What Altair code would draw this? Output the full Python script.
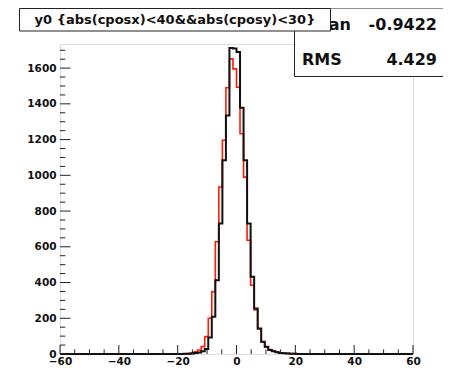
import altair as alt
import pandas as pd

# histogram binning (ROOT: 100 bins from -60 to 60)
x_min = -60.0
x_max = 60.0
bin_width = 1.2
n_bins = 100

# black histogram: first non-empty bin edge and counts
black_start = -18.0
black_counts = [1, 2, 3, 5, 9, 15, 28, 92, 209, 413, 730, 1084, 1335, 1712, 1710,
                1690, 1378, 1084, 730, 432, 255, 143, 69, 41, 23, 15, 10, 6, 4, 3, 2, 1]

# red histogram
red_start = -16.8
red_counts = [2, 5, 12, 22, 41, 97, 200, 348, 628, 935, 1196, 1490, 1652, 1596,
              1493, 1233, 990, 637, 385, 246, 140, 68, 38, 25, 16, 10, 7, 5, 4, 3, 2, 1]

y_max = 1735

x_label_values = [-60, -40, -20, 0, 20, 40, 60]
x_minor_ticks = [-55, -50, -45, -35, -30, -25, -15, -10, -5, 5, 10, 15, 25, 30, 35, 45, 50, 55]
y_label_values = [0, 200, 400, 600, 800, 1000, 1200, 1400, 1600]
y_minor_ticks = [50, 100, 150, 250, 300, 350, 450, 500, 550, 650, 700, 750, 850, 900, 950,
                 1050, 1100, 1150, 1250, 1300, 1350, 1450, 1500, 1550, 1650, 1700]

title_text = "y0 {abs(cposx)<40&&abs(cposy)<30}"
stat_names = ["Mean", "RMS"]
stat_values = ["-0.9422", "4.429"]

W, H = 353, 310


def hist_rows(start, counts, name):
    first = int(round((start - x_min) / bin_width))
    full = [0] * n_bins
    for i, c in enumerate(counts):
        full[first + i] = c
    rows = []
    for i in range(n_bins):
        rows.append({"x": x_min + i * bin_width, "count": full[i], "series": name})
    rows.append({"x": x_max, "count": full[-1], "series": name})
    return rows


xs = alt.Scale(domain=[x_min, x_max], nice=False, zero=False)
ys = alt.Scale(domain=[0, y_max], nice=False, zero=True)

font = "DejaVu Sans"

red_df = pd.DataFrame(hist_rows(red_start, red_counts, "red"))
black_df = pd.DataFrame(hist_rows(black_start, black_counts, "black"))

x_axis = alt.Axis(values=x_label_values, tickSize=0, domain=False, grid=False, title=None,
                  labelFont=font, labelFontWeight="bold", labelFontSize=10.5, labelColor="#111",
                  labelPadding=2, labelFlush=False, labelOverlap=False, format="d")
y_axis = alt.Axis(values=y_label_values, tickSize=0, domain=False, grid=False, title=None,
                  labelFont=font, labelFontWeight="bold", labelFontSize=10.5, labelColor="#111",
                  labelPadding=4, labelOverlap=False, format="d")

X = lambda f: alt.X(f, scale=xs, axis=x_axis)
Y = lambda f: alt.Y(f, scale=ys, axis=y_axis)

red_line = alt.Chart(red_df).mark_line(interpolate="step-after", color="#ff1a00", strokeWidth=1.6).encode(
    x=X("x:Q"), y=Y("count:Q"))
black_line = alt.Chart(black_df).mark_line(interpolate="step-after", color="#111111", strokeWidth=2).encode(
    x=X("x:Q"), y=Y("count:Q"))

xmaj = alt.Chart(pd.DataFrame({"x": x_label_values})).mark_rule(color="#222", strokeWidth=1).encode(
    x=X("x:Q"), y=alt.value(H), y2=alt.value(H - 9))
xmin_ = alt.Chart(pd.DataFrame({"x": x_minor_ticks})).mark_rule(color="#222", strokeWidth=1).encode(
    x=X("x:Q"), y=alt.value(H), y2=alt.value(H - 4.6))
ymaj = alt.Chart(pd.DataFrame({"count": y_label_values})).mark_rule(color="#222", strokeWidth=1).encode(
    y=Y("count:Q"), x=alt.value(0), x2=alt.value(10.5))
ymin_ = alt.Chart(pd.DataFrame({"count": y_minor_ticks})).mark_rule(color="#222", strokeWidth=1).encode(
    y=Y("count:Q"), x=alt.value(0), x2=alt.value(5.3))

one = pd.DataFrame({"a": [0]})

stats_box = alt.Chart(one).mark_rect(fill="white", stroke="#222", strokeWidth=1).encode(
    x=alt.value(234.5), x2=alt.value(386.5), y=alt.value(-36), y2=alt.value(32.5))

stat_layers = []
for name, value, base in zip(stat_names, stat_values, [-14, 21]):
    stat_layers.append(alt.Chart(one).mark_text(
        align="left", baseline="alphabetic", font=font, fontWeight="bold", fontSize=16, color="#111",
        text=name).encode(x=alt.value(242), y=alt.value(base)))
    stat_layers.append(alt.Chart(one).mark_text(
        align="right", baseline="alphabetic", font=font, fontWeight="bold", fontSize=16, color="#111",
        text=value).encode(x=alt.value(377), y=alt.value(base)))

title_box = alt.Chart(one).mark_rect(fill="white", stroke="#222", strokeWidth=1).encode(
    x=alt.value(-40.5), x2=alt.value(270.5), y=alt.value(-35.5), y2=alt.value(-13))
title_mark = alt.Chart(one).mark_text(
    align="center", baseline="middle", font=font, fontWeight="bold", fontSize=13, color="#111",
    text=title_text).encode(x=alt.value(115), y=alt.value(-24.5))

chart = alt.layer(
    red_line, black_line, xmaj, xmin_, ymaj, ymin_,
    stats_box, *stat_layers, title_box, title_mark
).properties(
    width=W, height=H,
    autosize=alt.AutoSizeParams(type="none"),
    padding={"left": 52, "top": 36, "right": 30, "bottom": 16},
).configure_view(stroke="#222", strokeWidth=1).configure(background="white")

chart.save("out.html", embed_options={"renderer": "svg", "actions": False})
